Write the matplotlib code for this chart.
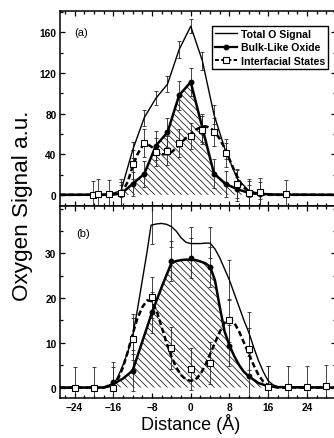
"""Oxygen signal depth profiles: total signal, bulk-like oxide and interfacial states."""

import matplotlib

matplotlib.use("Agg")
import matplotlib.pyplot as plt
from matplotlib.lines import Line2D
from matplotlib.ticker import FixedLocator, MultipleLocator

# ---- panel (a) ----
A_TOTAL_X = [-27, -19.2, -16.8, -14.4, -12.0, -9.6, -7.2, -4.8, -2.4, 0.0,
             2.4, 4.8, 7.2, 9.6, 12.0, 14.4, 16.8, 19.2, 30]
A_TOTAL = [0, 0, 0.5, 4, 44, 76, 95, 109, 143, 166,
           132, 79, 43, 16, 4, 1, 0.3, 0, 0]
A_TOTAL_ERR = [6, 8, 8, 7, 8, 8, 7, 9, 9, 8, 8, 6, 5]  # for -14.4 .. 14.4

A_BULK_X = [-27, -16.8, -14.4, -12.0, -9.6, -7.2, -4.8, -2.4, 0.0,
            2.4, 4.8, 7.2, 9.6, 12.0, 14.4, 16.8, 30]
A_BULK = [0, 0.2, 1, 10.8, 20.6, 48.4, 61.5, 98, 111,
          66, 21, 10.8, 5.5, 2, 1, 0.3, 0]
A_BULK_ERR = [12, 12, 13, 14, 14, 14, 14, 14, 14, 13, 12, 12, 12]  # -14.4 .. 14.4

A_INT_X = [-20.2, -19.2, -16.8, -14.4, -12.0, -9.6, -7.2, -4.8, -2.4, 0.0,
           2.4, 4.8, 7.2, 9.6, 12.0, 14.4, 19.6]
A_INT = [0, 1, 0.5, 1.5, 30, 51, 42, 43.5, 51, 58,
         64, 62, 41, 11, 2, 2.5, 0.5]
A_INT_ERR = [14, 15, 14, 14, 14, 14, 14, 14, 14, 13,
             14, 14, 14, 14, 14, 14, 14]

A_INT_FIT_X = [-27, -18, -16, -15, -14, -13, -12, -11, -10, -9, -8, -7, -6, -5,
               -4, -3, -2, -1, 0, 1, 2, 3, 4, 5, 6, 7, 8, 9, 10, 11, 12, 13,
               14, 16, 30]
A_INT_FIT = [0, 0, 0.5, 1.5, 4, 13, 28, 40, 48, 50, 47, 43, 40, 40,
             42, 46, 51, 56, 60, 64, 66.5, 67.5, 66, 62, 55, 46, 35, 24, 14, 7, 3.5, 1.5,
             0.5, 0, 0]

# ---- panel (b) ----
B_X = [-24, -20, -16, -12, -8, -4, 0, 4, 8, 12, 16, 20, 24, 28]
B_INT = [0, 0, 0, 10.8, 20.2, 8.8, 4.1, 5.6, 15, 8.6, 0.2, 0.1, 0.1, 0.3]
B_INT_ERR = [4.7, 4.7, 4.7, 4.7, 4.6, 4.7, 4.7, 4.7, 4.7, 4.7, 4.7, 4.7, 4.7, 4.7]

B_BULK_X = [-16, -12, -8, -4, 0, 4, 8, 12, 16]
B_BULK = [1.2, 3.8, 16.8, 28.3, 29, 27, 9.4, 2.5, 0.3]
B_BULK_ERR = [4.5, 4.5, 4.5, 4.5, 4.5, 4.5, 4.5, 4.5, 4.5]

B_TOTAL_BAR_X = [-12, -8, -4, 0, 4, 8, 12]
B_TOTAL_BAR = [12, 36.5, 36, 32.3, 32.4, 24, 12.3]
B_TOTAL_ERR = [4.5, 4.5, 4.5, 3.5, 3.5, 4.5, 4.5]

B_TOTAL_FIT_X = [-27, -20, -17, -16, -15, -14, -13, -12, -11, -10, -9, -8.2, -7,
                 -6, -5, -4, -3, -2, -1, 0, 1, 2, 3, 4, 5, 6, 7, 8, 9, 10, 11,
                 12, 13, 14, 15, 16, 17, 18, 20, 30]
B_TOTAL_FIT = [0, 0, 0.1, 0.5, 2.5, 5, 8, 11.5, 17.5, 24, 30.5, 36.3, 36.6,
               36.7, 36.5, 36, 35, 33.5, 32.5, 32.2, 32.2, 32.2, 32.3, 32.3, 31, 29, 26.5, 24, 21, 18, 15,
               12.3, 9, 6, 3.5, 1.5, 0.6, 0.2, 0, 0]

B_BULK_FIT_X = [-27, -18, -16, -14, -12, -10, -8, -6, -4, -3, -2, -1, 0, 1, 2,
                3, 4, 5, 6, 7, 8, 9, 10, 11, 12, 14, 16, 18, 30]
B_BULK_FIT = [0, 0, 0.8, 2, 3.8, 10.3, 16.8, 22.5, 27.8, 28.3, 28.5, 28.6, 28.6, 28.5, 28.2,
              27.8, 27, 24, 18, 12.5, 9.4, 7, 5, 3.5, 2.5, 1, 0.3, 0.1, 0]

B_INT_FIT_X = [-27, -18, -17, -16, -15, -14, -13, -12, -11, -10, -9, -8, -7, -6,
               -5, -4, -3, -2, -1, 0, 1, 2, 3, 4, 5, 6, 7, 8, 9, 10, 11, 12, 13,
               14, 15, 16, 17, 18, 30]
B_INT_FIT = [0, 0, 0.3, 0.8, 2, 4.5, 8, 12, 15.5, 18, 19.5, 19.3, 17, 13.5,
             10, 7, 4.5, 2.8, 1.8, 1.5, 1.8, 3, 5, 7.5, 10, 12.5, 14.5, 15.2, 14.5, 12.5, 10, 7.5, 5,
             2.8, 1.3, 0.5, 0.2, 0, 0]

A_YTICKS = [0, 40, 80, 120, 160]
B_YTICKS = [0, 10, 20, 30]
LABELS = ["Total O Signal", "Bulk-Like Oxide", "Interfacial States"]

ERR_KW = dict(fmt="none", ecolor="0.15", elinewidth=0.6, capsize=1.4, capthick=0.6)
TICK_FONT = dict(family=["Liberation Sans", "DejaVu Sans"], weight="bold", size=7.3)


def style_axes(ax, ylim, yticks, yminor):
    ax.set_xlim(-27, 30)
    ax.set_ylim(*ylim)
    ax.xaxis.set_major_locator(MultipleLocator(8))
    ax.xaxis.set_minor_locator(MultipleLocator(2))
    ax.yaxis.set_major_locator(FixedLocator(yticks))
    ax.yaxis.set_minor_locator(MultipleLocator(yminor))
    ax.tick_params(which="both", direction="in", top=True, right=True, width=0.9, pad=2.5)
    ax.tick_params(which="major", length=3.5)
    ax.tick_params(which="minor", length=2)
    for spine in ax.spines.values():
        spine.set_linewidth(1.1)
    for lab in ax.get_yticklabels() + ax.get_xticklabels():
        lab.set(**TICK_FONT)


def draw_panel(ax, total, bulk, interf, bars, hatch_x, hatch_y):
    ax.fill_between(hatch_x, 0, hatch_y, facecolor="none", edgecolor="black",
                    hatch="\\\\\\\\\\", linewidth=0, zorder=1)
    ax.plot(*total, color="black", lw=1.0, zorder=3)
    ax.plot(*bulk, color="black", lw=1.8, zorder=3)
    ax.plot(*interf, color="black", lw=1.8, ls=(0, (2.2, 1.2)), zorder=3)
    for x, y, err in bars:
        ax.errorbar(x, y, yerr=err, zorder=2, **ERR_KW)


def main():
    plt.rcParams["font.family"] = ["Liberation Sans", "DejaVu Sans"]
    plt.rcParams["hatch.linewidth"] = 0.5
    fig = plt.figure(figsize=(3.34, 4.39), dpi=100)

    left, width = 60 / 334, 276 / 334
    ax_a = fig.add_axes([left, 232 / 439, width, 195 / 439])
    ax_b = fig.add_axes([left, 39.7 / 439, width, 192.3 / 439], sharex=ax_a)

    # (a)
    draw_panel(
        ax_a,
        total=(A_TOTAL_X, A_TOTAL),
        bulk=(A_BULK_X, A_BULK),
        interf=(A_INT_FIT_X, A_INT_FIT),
        bars=[
            (A_TOTAL_X[3:-3], A_TOTAL[3:-3], A_TOTAL_ERR),
            (A_BULK_X[2:-2], A_BULK[2:-2], A_BULK_ERR),
            (A_INT_X, A_INT, A_INT_ERR),
        ],
        hatch_x=A_BULK_X,
        hatch_y=A_BULK,
    )
    ax_a.plot(A_BULK_X[2:-2], A_BULK[2:-2], "o", color="black", ms=3.2, zorder=4)
    ax_a.plot(A_INT_X, A_INT, "s", mfc="white", mec="black", mew=0.8, ms=4.5, zorder=5)
    style_axes(ax_a, (-11, 181), A_YTICKS, 20)
    ax_a.tick_params(labelbottom=False)
    ax_a.text(0.05, 0.892, "(a)", transform=ax_a.transAxes, fontsize=8, va="center")

    handles = [
        Line2D([], [], color="black", lw=1.0),
        Line2D([], [], color="black", lw=1.6, marker="o", ms=3.2),
        Line2D([], [], color="black", lw=1.4, ls=(0, (2, 1.2)), marker="s",
               mfc="white", mec="black", mew=0.8, ms=4),
    ]
    leg = ax_a.legend(
        handles, LABELS, loc="upper right", bbox_to_anchor=(0.971, 0.923),
        borderaxespad=0, frameon=True, fancybox=False, edgecolor="black",
        framealpha=1, handlelength=2.1, handletextpad=0.3, labelspacing=0.3,
        borderpad=0.3,
        prop=dict(family=["Liberation Sans Narrow", "Liberation Sans"], weight="bold", size=7.6),
    )
    leg.get_frame().set_linewidth(1.0)

    # (b)
    draw_panel(
        ax_b,
        total=(B_TOTAL_FIT_X, B_TOTAL_FIT),
        bulk=(B_BULK_FIT_X, B_BULK_FIT),
        interf=(B_INT_FIT_X, B_INT_FIT),
        bars=[
            (B_TOTAL_BAR_X, B_TOTAL_BAR, B_TOTAL_ERR),
            (B_BULK_X, B_BULK, B_BULK_ERR),
            (B_X, B_INT, B_INT_ERR),
        ],
        hatch_x=B_BULK_FIT_X,
        hatch_y=B_BULK_FIT,
    )
    ax_b.plot(B_BULK_X, B_BULK, "o", color="black", ms=3.2, zorder=4)
    ax_b.plot(B_X, B_INT, "s", mfc="white", mec="black", mew=0.8, ms=4.5, zorder=5)
    style_axes(ax_b, (-2.4, 40.6), B_YTICKS, 5)
    ax_b.text(0.058, 0.86, "(b)", transform=ax_b.transAxes, fontsize=8, va="center")

    fig.text(0.066, 0.531, "Oxygen Signal a.u.", rotation=90, fontsize=16.2,
             ha="center", va="center")
    fig.text(191 / 334, 1 - 424 / 439, "Distance (Å)", fontsize=13, ha="center", va="center")

    fig.savefig("out.png", dpi=100)


if __name__ == "__main__":
    main()
